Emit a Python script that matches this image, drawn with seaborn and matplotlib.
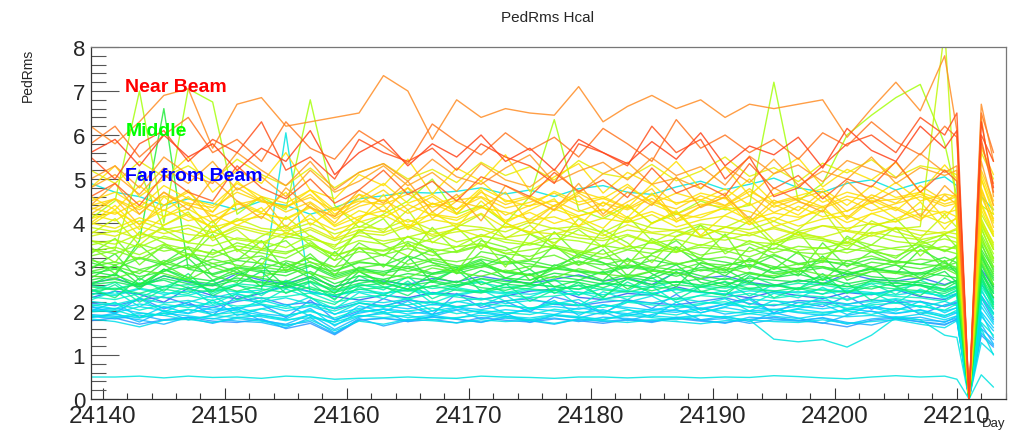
import matplotlib
matplotlib.use("Agg")
import matplotlib.pyplot as plt
from matplotlib.colors import LinearSegmentedColormap
from matplotlib.ticker import MultipleLocator
import pandas as pd
import seaborn as sns

# Measurement days (the run at 24211 reads zero pedestal RMS in every channel)
days = [24139, 24141, 24143, 24145, 24147, 24149, 24151, 24153, 24155, 24157,
        24159, 24161, 24163, 24165, 24167, 24169, 24171, 24173, 24175, 24177,
        24179, 24181, 24183, 24185, 24187, 24189, 24191, 24193, 24195, 24197,
        24199, 24201, 24203, 24205, 24207, 24209, 24210, 24211, 24212, 24213]

# Pedestal RMS per channel, channels far from the beam
far_rms = [
    [0.50, 0.50, 0.52, 0.48, 0.52, 0.49, 0.50, 0.47, 0.52, 0.50,
     0.45, 0.47, 0.48, 0.50, 0.48, 0.47, 0.52, 0.50, 0.49, 0.47,
     0.50, 0.50, 0.48, 0.50, 0.50, 0.48, 0.50, 0.49, 0.53, 0.51,
     0.48, 0.46, 0.50, 0.53, 0.50, 0.52, 0.45, 0.00, 0.55, 0.27],
    [1.90, 1.85, 1.95, 1.90, 1.80, 1.90, 1.85, 1.90, 1.80, 1.85,
     1.75, 1.90, 1.85, 1.90, 1.80, 1.85, 1.90, 1.85, 1.80, 1.90,
     1.85, 1.80, 1.90, 1.85, 1.80, 1.90, 1.85, 1.80, 1.36, 1.30,
     1.35, 1.18, 1.45, 1.85, 1.80, 1.45, 1.40, 0.00, 1.60, 1.00],
    [1.82, 1.76, 1.64, 1.79, 1.81, 1.74, 1.83, 1.77, 1.66, 1.80,
     1.55, 1.77, 1.70, 1.81, 1.78, 1.73, 1.80, 1.76, 1.79, 1.72,
     1.81, 1.78, 1.74, 1.80, 1.76, 1.71, 1.78, 1.80, 1.76, 1.74,
     1.80, 1.72, 1.76, 1.80, 1.70, 1.62, 1.78, 0.00, 1.28, 1.02],
    [1.92, 1.88, 1.80, 1.70, 1.86, 1.83, 1.77, 1.74, 1.62, 1.85,
     1.50, 1.80, 1.83, 1.79, 1.86, 1.82, 1.74, 1.88, 1.80, 1.84,
     1.76, 1.86, 1.83, 1.78, 1.85, 1.80, 1.72, 1.86, 1.82, 1.79,
     1.84, 1.70, 1.82, 1.87, 1.80, 1.76, 1.84, 0.00, 1.50, 1.22],
    [1.98, 2.02, 1.86, 1.95, 2.04, 1.92, 1.97, 2.05, 1.90, 1.99,
     1.84, 2.03, 1.95, 2.00, 2.07, 1.94, 2.01, 1.96, 1.92, 2.04,
     1.98, 1.93, 2.02, 1.97, 1.91, 2.05, 1.99, 1.94, 2.03, 1.98,
     1.95, 2.00, 1.92, 2.06, 1.97, 1.88, 2.02, 0.00, 1.74, 1.45],
    [2.05, 1.96, 2.10, 2.01, 1.94, 2.08, 2.00, 1.91, 1.82, 2.06,
     1.66, 1.98, 2.04, 1.93, 2.00, 2.09, 1.95, 2.03, 1.98, 1.92,
     2.07, 2.00, 1.94, 2.05, 2.01, 1.96, 2.08, 1.99, 1.93, 2.04,
     1.97, 2.02, 2.08, 1.95, 2.03, 1.90, 1.98, 0.00, 2.10, 1.70],
    [2.12, 2.18, 2.02, 2.15, 2.08, 2.20, 2.11, 2.16, 2.06, 2.13,
     2.00, 2.19, 2.10, 2.14, 2.22, 2.09, 2.17, 2.12, 2.06, 2.18,
     2.13, 2.08, 2.20, 2.14, 2.10, 2.17, 2.21, 2.09, 2.15, 2.12,
     2.19, 2.06, 2.14, 2.18, 2.11, 2.02, 2.16, 0.00, 2.30, 1.92],
    [1.88, 1.82, 1.91, 1.79, 1.84, 1.72, 1.86, 1.80, 1.68, 1.76,
     1.48, 1.83, 1.66, 1.79, 1.87, 1.81, 1.75, 1.84, 1.78, 1.70,
     1.82, 1.76, 1.81, 1.74, 1.86, 1.79, 1.83, 1.72, 1.80, 1.77,
     1.85, 1.74, 1.68, 1.82, 1.76, 1.70, 1.80, 0.00, 1.60, 1.35],
    [2.22, 2.15, 2.28, 2.18, 2.24, 2.12, 2.26, 2.20, 2.30, 2.16,
     2.08, 2.23, 2.19, 2.27, 2.14, 2.21, 2.29, 2.17, 2.24, 2.20,
     2.13, 2.26, 2.22, 2.18, 2.30, 2.21, 2.15, 2.27, 2.23, 2.19,
     2.25, 2.16, 2.22, 2.28, 2.20, 2.11, 2.24, 0.00, 2.45, 2.05],
    [2.00, 2.06, 1.96, 1.90, 2.03, 1.97, 2.08, 1.94, 1.88, 2.02,
     1.80, 1.95, 2.05, 1.99, 1.92, 2.04, 1.98, 1.91, 2.06, 2.00,
     1.95, 2.03, 1.89, 2.01, 1.97, 2.07, 1.93, 2.00, 2.04, 1.96,
     1.90, 2.05, 1.99, 1.94, 2.02, 1.85, 1.96, 0.00, 1.88, 1.55],
    [2.32, 2.26, 2.40, 2.30, 2.35, 2.24, 2.38, 2.29, 2.33, 2.41,
     2.20, 2.31, 2.36, 2.27, 2.39, 2.32, 2.25, 2.37, 2.30, 2.34,
     2.42, 2.28, 2.33, 2.38, 2.26, 2.35, 2.31, 2.40, 2.29, 2.36,
     2.32, 2.27, 2.39, 2.33, 2.30, 2.22, 2.37, 0.00, 2.55, 2.15],
    [1.86, 1.92, 1.84, 1.95, 1.89, 1.82, 1.93, 1.87, 1.78, 1.91,
     1.69, 1.88, 1.94, 1.85, 1.90, 1.83, 1.96, 1.88, 1.84, 1.92,
     1.87, 1.81, 1.93, 1.89, 1.85, 1.91, 1.86, 1.94, 1.88, 1.83,
     1.92, 1.87, 1.90, 1.85, 1.93, 1.80, 1.89, 0.00, 1.95, 1.40],
    [1.78, 1.84, 1.70, 1.80, 1.86, 1.77, 1.74, 1.82, 1.60, 1.72,
     1.46, 1.79, 1.84, 1.76, 1.81, 1.73, 1.85, 1.79, 1.75, 1.82,
     1.78, 1.72, 1.80, 1.76, 1.83, 1.77, 1.74, 1.81, 1.86, 1.78,
     1.73, 1.64, 1.79, 1.84, 1.75, 1.68, 1.82, 0.00, 1.45, 1.18],
    [2.46, 2.38, 2.52, 2.42, 2.36, 2.49, 2.44, 2.40, 2.55, 2.43,
     2.35, 2.50, 2.41, 2.47, 2.38, 2.53, 2.44, 2.39, 2.48, 2.42,
     2.37, 2.51, 2.45, 2.40, 2.49, 2.43, 2.38, 2.52, 2.46, 2.41,
     2.50, 2.44, 2.39, 2.47, 2.42, 2.34, 2.48, 0.00, 2.70, 2.25],
    [2.58, 2.50, 2.64, 2.55, 2.60, 2.48, 2.62, 2.57, 2.52, 2.66,
     2.45, 2.59, 2.54, 2.63, 2.51, 2.58, 2.65, 2.53, 2.60, 2.56,
     2.49, 2.62, 2.58, 2.54, 2.67, 2.57, 2.52, 2.61, 2.55, 2.63,
     2.59, 2.50, 2.64, 2.57, 2.60, 2.47, 2.58, 0.00, 2.85, 2.40],
    [2.10, 2.04, 2.16, 2.08, 2.13, 2.02, 2.07, 2.14, 2.00, 2.11,
     1.93, 2.06, 2.12, 2.05, 2.15, 2.09, 2.03, 2.13, 2.07, 2.10,
     2.04, 2.14, 2.08, 2.02, 2.12, 2.06, 2.15, 2.09, 2.03, 2.11,
     2.05, 2.13, 2.08, 2.04, 2.12, 2.00, 2.07, 0.00, 1.98, 1.62],
    [2.30, 2.45, 2.38, 2.20, 2.52, 2.35, 2.28, 2.40, 2.58, 2.44,
     2.33, 2.25, 2.36, 2.30, 2.42, 2.38, 2.27, 2.34, 2.45, 2.50,
     2.31, 2.26, 2.40, 2.36, 2.55, 2.43, 2.38, 2.30, 2.44, 2.35,
     2.28, 2.42, 2.37, 2.48, 2.33, 2.26, 2.40, 0.00, 2.60, 2.30],
    [2.62, 2.75, 2.55, 2.80, 2.66, 2.58, 2.85, 2.70, 2.62, 2.78,
     2.55, 2.70, 2.68, 2.60, 2.74, 2.66, 2.79, 2.70, 2.63, 2.72,
     2.82, 2.68, 2.75, 2.60, 2.88, 2.74, 2.80, 2.65, 2.58, 2.70,
     2.62, 2.85, 2.72, 2.68, 2.76, 2.60, 2.70, 0.00, 2.95, 2.55],
    [2.18, 2.12, 2.25, 2.32, 2.15, 2.08, 2.22, 2.30, 2.14, 2.20,
     2.05, 2.18, 2.12, 2.24, 2.19, 2.10, 2.16, 2.23, 2.28, 2.15,
     2.12, 2.20, 2.25, 2.18, 2.14, 2.22, 2.30, 2.17, 2.12, 2.24,
     2.20, 2.15, 2.26, 2.19, 2.22, 2.10, 2.18, 0.00, 2.35, 1.95],
    [2.40, 2.35, 2.50, 2.38, 2.45, 2.30, 2.42, 2.48, 6.05, 2.40,
     2.36, 2.44, 2.39, 2.50, 2.41, 2.35, 2.46, 2.42, 2.38, 2.47,
     2.43, 2.37, 2.45, 2.40, 2.49, 2.42, 2.38, 2.46, 2.41, 2.44,
     2.39, 2.47, 2.42, 2.36, 2.45, 2.32, 2.40, 0.00, 2.62, 2.20],
    [4.90, 4.70, 4.60, 4.40, 4.55, 4.45, 4.30, 4.50, 4.40, 4.20,
     4.35, 4.55, 4.62, 4.70, 4.68, 4.72, 4.80, 4.66, 4.75, 4.60,
     4.78, 4.85, 4.70, 4.65, 4.82, 4.95, 4.76, 4.88, 5.02, 4.80,
     4.70, 4.90, 4.98, 4.75, 4.92, 5.05, 4.85, 0.00, 4.60, 4.30],
    [2.00, 2.20, 1.85, 2.10, 1.95, 2.25, 1.90, 2.05, 2.15, 1.88,
     1.75, 2.12, 1.98, 2.22, 1.92, 2.08, 2.18, 1.95, 2.02, 2.24,
     1.90, 2.14, 2.04, 1.86, 2.20, 1.96, 2.10, 2.26, 1.94, 2.06,
     2.16, 1.92, 2.12, 2.00, 2.22, 1.96, 2.08, 0.00, 2.20, 1.75],
    [2.25, 2.45, 2.10, 2.35, 2.55, 2.15, 2.40, 2.20, 2.50, 2.30,
     2.05, 2.42, 2.28, 2.58, 2.18, 2.38, 2.48, 2.22, 2.32, 2.52,
     2.12, 2.44, 2.26, 2.56, 2.20, 2.36, 2.46, 2.14, 2.40, 2.30,
     2.54, 2.24, 2.42, 2.18, 2.50, 2.28, 2.36, 0.00, 2.50, 1.95],
    [1.85, 1.95, 1.75, 2.00, 1.80, 1.90, 2.05, 1.78, 1.70, 1.92,
     1.58, 1.86, 1.98, 1.76, 1.88, 2.02, 1.82, 1.94, 1.74, 1.90,
     1.84, 1.98, 1.78, 1.92, 2.04, 1.80, 1.88, 1.76, 1.96, 1.84,
     1.72, 1.90, 2.00, 1.82, 1.86, 1.74, 1.88, 0.00, 1.70, 1.25],
    [2.10, 1.95, 2.30, 2.05, 2.20, 1.90, 2.35, 2.15, 1.85, 2.25,
     1.80, 2.00, 2.28, 2.12, 1.92, 2.40, 2.08, 2.22, 1.98, 2.32,
     2.18, 1.94, 2.26, 2.06, 2.38, 2.02, 2.16, 2.30, 1.96, 2.20,
     2.10, 2.34, 2.04, 2.24, 1.92, 2.14, 2.20, 0.00, 2.30, 1.80],
    [2.15, 2.05, 2.28, 1.98, 2.20, 2.35, 2.02, 2.25, 2.10, 2.32,
     1.92, 2.18, 2.08, 2.30, 2.00, 2.22, 2.12, 2.36, 2.04, 2.16,
     2.26, 1.96, 2.20, 2.34, 2.06, 2.14, 2.28, 2.00, 2.24, 2.10,
     2.32, 2.02, 2.18, 2.26, 2.08, 2.22, 2.12, 0.00, 2.35, 1.85],
    [2.45, 2.65, 2.30, 2.55, 2.75, 2.40, 2.60, 2.35, 2.70, 2.50,
     2.28, 2.62, 2.48, 2.78, 2.38, 2.58, 2.68, 2.42, 2.52, 2.72,
     2.36, 2.64, 2.46, 2.76, 2.40, 2.56, 2.66, 2.34, 2.60, 2.50,
     2.74, 2.44, 2.62, 2.38, 2.70, 2.48, 2.56, 0.00, 2.75, 2.15],
]
far_tone = [0.30, 0.30, 0.28, 0.20, 0.32, 0.25, 0.34, 0.18, 0.30, 0.22, 0.35,
            0.27, 0.14, 0.32, 0.36, 0.24, 0.05, 0.07, 0.10, 0.30, 0.30,
            0.26, 0.33, 0.20, 0.12, 0.29, 0.36]

# Pedestal RMS per channel, middle ring
middle_rms = [
    [2.70, 2.82, 2.60, 2.95, 2.76, 2.68, 2.88, 2.74, 2.66, 2.90,
     2.62, 2.80, 2.72, 2.85, 2.78, 2.64, 2.92, 2.75, 2.70, 2.86,
     2.79, 2.68, 2.83, 2.74, 2.95, 2.80, 2.71, 2.88, 2.76, 2.84,
     2.70, 2.90, 2.78, 2.73, 2.87, 2.80, 2.75, 0.00, 3.05, 2.50],
    [2.90, 3.02, 2.85, 3.15, 2.96, 3.08, 2.88, 3.00, 2.92, 3.12,
     2.84, 2.98, 3.06, 2.90, 3.04, 2.95, 3.10, 2.89, 3.02, 2.97,
     3.14, 2.93, 3.05, 2.98, 3.09, 2.91, 3.03, 3.16, 2.95, 3.07,
     3.00, 2.92, 3.11, 3.04, 2.96, 3.08, 2.99, 0.00, 3.30, 2.85],
    [2.55, 2.48, 2.62, 2.70, 2.52, 2.60, 2.45, 2.58, 2.66, 2.50,
     2.42, 2.57, 2.63, 2.49, 2.56, 2.68, 2.53, 2.47, 2.61, 2.55,
     2.50, 2.64, 2.58, 2.46, 2.60, 2.54, 2.67, 2.51, 2.59, 2.48,
     2.62, 2.56, 2.50, 2.65, 2.57, 2.44, 2.55, 0.00, 2.78, 2.30],
    [3.10, 2.95, 3.20, 3.05, 3.28, 3.00, 3.15, 3.08, 2.98, 3.22,
     2.92, 3.12, 3.04, 3.25, 3.10, 2.99, 3.18, 3.06, 3.14, 3.02,
     3.24, 3.09, 2.97, 3.16, 3.05, 3.20, 3.11, 3.00, 3.26, 3.08,
     3.15, 3.03, 3.19, 3.12, 3.06, 3.22, 3.10, 0.00, 3.40, 2.95],
    [2.80, 2.74, 2.92, 2.85, 2.70, 3.00, 2.82, 2.77, 2.95, 2.86,
     2.72, 2.90, 2.83, 2.76, 2.98, 2.88, 2.79, 2.93, 2.81, 2.75,
     2.96, 2.84, 2.78, 2.91, 2.87, 2.73, 2.99, 2.85, 2.80, 2.94,
     2.82, 2.77, 2.90, 2.86, 2.74, 2.97, 2.83, 0.00, 3.15, 2.60],
    [2.65, 2.72, 2.58, 2.80, 2.68, 2.62, 2.75, 2.66, 2.60, 2.78,
     2.55, 2.70, 2.64, 2.76, 2.69, 2.59, 2.74, 2.67, 2.63, 2.79,
     2.71, 2.61, 2.77, 2.68, 2.65, 2.73, 2.60, 2.75, 2.70, 2.66,
     2.78, 2.62, 2.72, 2.69, 2.64, 2.58, 2.70, 0.00, 2.90, 2.45],
    [3.25, 3.38, 3.18, 3.45, 3.30, 3.22, 3.40, 3.32, 3.20, 3.48,
     3.15, 3.35, 3.28, 3.42, 3.26, 3.36, 3.50, 3.30, 3.24, 3.44,
     3.34, 3.21, 3.39, 3.31, 3.46, 3.27, 3.37, 3.23, 3.43, 3.33,
     3.29, 3.41, 3.35, 3.25, 3.47, 3.38, 3.30, 0.00, 3.60, 3.10],
    [2.85, 2.95, 2.78, 2.90, 3.05, 2.82, 2.98, 2.88, 2.80, 3.02,
     2.76, 2.93, 2.86, 2.97, 2.83, 2.91, 3.04, 2.87, 2.81, 2.96,
     2.89, 2.84, 3.00, 2.92, 2.79, 2.94, 2.87, 3.03, 2.85, 2.90,
     2.98, 2.83, 2.95, 2.88, 2.82, 2.99, 2.90, 0.00, 3.20, 2.70],
    [2.45, 2.52, 2.40, 2.56, 2.48, 2.44, 2.58, 2.50, 2.42, 2.55,
     2.36, 2.49, 2.53, 2.45, 2.57, 2.47, 2.41, 2.54, 2.50, 2.46,
     2.59, 2.48, 2.43, 2.55, 2.51, 2.44, 2.57, 2.49, 2.45, 2.53,
     2.47, 2.42, 2.56, 2.50, 2.46, 2.40, 2.52, 0.00, 2.70, 2.20],
    [3.00, 3.12, 2.94, 3.08, 2.98, 3.18, 3.04, 2.96, 3.14, 3.02,
     2.90, 3.10, 3.06, 2.97, 3.16, 3.03, 2.99, 3.13, 3.07, 2.95,
     3.11, 3.05, 3.17, 3.00, 2.93, 3.09, 3.04, 3.15, 3.01, 2.96,
     3.12, 3.08, 2.98, 3.14, 3.06, 3.02, 3.10, 0.00, 3.35, 2.80],
    [2.90, 2.80, 3.60, 6.60, 2.95, 2.85, 3.00, 2.92, 2.88, 3.05,
     2.80, 2.96, 2.90, 3.02, 2.86, 2.94, 3.08, 2.89, 2.83, 2.98,
     2.91, 2.87, 3.03, 2.95, 2.84, 2.99, 2.93, 3.06, 2.88, 2.97,
     3.01, 2.85, 2.96, 2.90, 2.86, 3.02, 2.94, 0.00, 3.25, 2.75],
    [3.15, 3.05, 3.22, 3.10, 3.30, 3.08, 3.18, 3.25, 3.02, 3.20,
     3.00, 3.14, 3.28, 3.06, 3.19, 3.12, 3.24, 3.09, 3.17, 3.27,
     3.04, 3.21, 3.13, 3.26, 3.07, 3.16, 3.23, 3.11, 3.29, 3.05,
     3.20, 3.14, 3.25, 3.08, 3.18, 3.12, 3.22, 0.00, 3.50, 3.00],
    [2.60, 2.66, 2.55, 2.74, 2.62, 2.57, 2.70, 2.64, 2.52, 2.68,
     2.48, 2.63, 2.71, 2.58, 2.66, 2.54, 2.73, 2.61, 2.56, 2.69,
     2.65, 2.53, 2.72, 2.60, 2.67, 2.59, 2.75, 2.62, 2.57, 2.70,
     2.64, 2.55, 2.68, 2.63, 2.59, 2.50, 2.66, 0.00, 2.85, 2.40],
    [3.40, 3.30, 3.52, 3.36, 3.46, 3.28, 3.55, 3.42, 3.34, 3.50,
     3.26, 3.44, 3.38, 3.58, 3.41, 3.33, 3.48, 3.37, 3.54, 3.43,
     3.31, 3.49, 3.40, 3.56, 3.35, 3.45, 3.39, 3.53, 3.32, 3.47,
     3.42, 3.57, 3.36, 3.44, 3.51, 3.38, 3.46, 0.00, 3.75, 3.20],
    [3.50, 3.62, 3.45, 3.70, 3.55, 3.48, 3.66, 3.58, 3.44, 3.72,
     3.40, 3.60, 3.52, 3.68, 3.57, 3.46, 3.74, 3.56, 3.50, 3.65,
     3.59, 3.47, 3.71, 3.54, 3.63, 3.49, 3.69, 3.57, 3.53, 3.67,
     3.60, 3.48, 3.73, 3.58, 3.52, 3.64, 3.56, 0.00, 3.85, 3.30],
    [3.60, 3.52, 3.75, 3.65, 3.58, 3.80, 3.62, 3.55, 3.78, 3.64,
     3.50, 3.72, 3.59, 3.68, 3.82, 3.57, 3.70, 3.63, 3.54, 3.77,
     3.66, 3.60, 3.74, 3.56, 3.81, 3.67, 3.61, 3.76, 3.58, 3.71,
     3.64, 3.53, 3.79, 3.69, 3.62, 3.73, 3.65, 0.00, 3.95, 3.40],
    [3.70, 3.82, 3.64, 3.88, 3.74, 3.68, 3.90, 3.76, 3.66, 3.85,
     3.60, 3.78, 3.72, 3.92, 3.70, 3.80, 3.86, 3.67, 3.75, 3.89,
     3.73, 3.65, 3.84, 3.77, 3.69, 3.87, 3.79, 3.71, 3.91, 3.74,
     3.68, 3.83, 3.76, 3.88, 3.72, 3.80, 3.75, 0.00, 4.00, 3.45],
    [3.35, 3.45, 3.28, 3.52, 3.40, 3.32, 3.48, 3.38, 3.30, 3.55,
     3.25, 3.42, 3.36, 3.50, 3.34, 3.46, 3.53, 3.31, 3.39, 3.49,
     3.37, 3.29, 3.47, 3.41, 3.33, 3.51, 3.43, 3.35, 3.54, 3.38,
     3.44, 3.32, 3.50, 3.40, 3.36, 3.47, 3.41, 0.00, 3.65, 3.15],
    [4.10, 4.50, 7.00, 4.00, 7.05, 6.75, 4.20, 4.60, 4.30, 6.80,
     4.40, 3.90, 4.20, 4.50, 5.00, 4.20, 4.40, 4.00, 4.60, 6.35,
     4.30, 4.10, 4.40, 4.00, 4.20, 4.50, 4.30, 4.40, 7.20, 4.50,
     4.90, 6.00, 6.45, 6.85, 7.15, 5.80, 4.60, 0.00, 4.40, 4.20],
    [3.90, 3.80, 4.05, 3.85, 3.95, 3.78, 4.10, 3.88, 3.82, 4.00,
     3.75, 3.92, 3.86, 4.08, 3.84, 3.96, 3.90, 3.80, 4.02, 3.87,
     3.93, 3.79, 4.06, 3.89, 3.83, 3.98, 3.91, 3.85, 4.04, 3.81,
     3.94, 3.88, 3.99, 3.86, 3.92, 8.40, 3.95, 0.00, 4.20, 3.70],
    [2.95, 3.30, 2.70, 3.10, 3.45, 2.80, 2.65, 3.20, 3.05, 2.75,
     3.35, 2.90, 2.60, 3.15, 3.40, 2.85, 3.00, 3.25, 2.70, 2.95,
     3.30, 3.10, 2.75, 2.90, 3.45, 3.05, 2.80, 3.20, 2.95, 3.35,
     2.70, 3.15, 3.00, 2.85, 3.40, 3.10, 2.95, 0.00, 3.30, 2.60],
    [3.45, 3.10, 3.80, 3.55, 3.20, 3.95, 3.40, 3.05, 3.70, 3.60,
     3.15, 3.85, 3.50, 3.25, 3.90, 3.35, 3.65, 3.00, 3.75, 3.45,
     3.20, 3.85, 3.55, 3.10, 3.70, 3.95, 3.30, 3.60, 3.40, 3.80,
     3.15, 3.65, 3.50, 3.90, 3.25, 3.75, 3.45, 0.00, 3.90, 3.20],
    [2.50, 2.30, 2.75, 2.45, 2.85, 2.35, 2.60, 2.90, 2.40, 2.65,
     2.25, 2.80, 2.55, 2.35, 2.70, 2.95, 2.45, 2.60, 2.85, 2.40,
     2.65, 2.30, 2.75, 2.55, 2.90, 2.45, 2.35, 2.80, 2.60, 2.50,
     2.85, 2.40, 2.70, 2.55, 2.35, 2.75, 2.60, 0.00, 2.80, 2.10],
    [3.20, 2.85, 3.50, 3.05, 2.75, 3.40, 3.15, 3.60, 2.90, 3.30,
     2.80, 3.45, 3.00, 3.55, 3.10, 2.85, 3.35, 3.25, 2.95, 3.50,
     3.05, 3.40, 2.80, 3.30, 3.60, 3.15, 2.90, 3.45, 3.20, 2.85,
     3.55, 3.00, 3.35, 3.10, 3.50, 2.95, 3.25, 0.00, 3.55, 2.90],
    [3.75, 4.10, 3.50, 3.95, 4.25, 3.60, 3.85, 3.40, 4.15, 3.70,
     3.45, 4.05, 3.80, 4.30, 3.55, 3.90, 4.20, 3.65, 3.95, 3.50,
     4.10, 3.75, 3.45, 4.00, 4.25, 3.70, 3.90, 4.15, 3.60, 3.85,
     4.30, 3.55, 4.05, 3.80, 3.65, 4.20, 3.90, 0.00, 4.10, 3.50],
    [2.35, 2.60, 2.20, 2.50, 2.40, 2.70, 2.25, 2.45, 2.65, 2.30,
     2.15, 2.55, 2.35, 2.68, 2.28, 2.50, 2.42, 2.62, 2.22, 2.48,
     2.58, 2.32, 2.66, 2.40, 2.26, 2.55, 2.44, 2.70, 2.30, 2.52,
     2.38, 2.64, 2.24, 2.50, 2.60, 2.34, 2.46, 0.00, 2.65, 2.05],
    [3.30, 3.65, 3.05, 3.50, 3.20, 3.75, 2.95, 3.40, 3.60, 3.10,
     3.00, 3.55, 3.25, 3.70, 3.35, 2.90, 3.60, 3.45, 3.15, 3.80,
     3.25, 3.50, 3.05, 3.65, 3.40, 3.20, 3.75, 2.95, 3.55, 3.30,
     3.10, 3.70, 3.40, 3.20, 3.60, 3.35, 3.50, 0.00, 3.70, 3.00],
    [2.75, 3.05, 2.60, 2.90, 3.20, 2.70, 2.95, 2.55, 3.10, 2.85,
     2.50, 3.00, 2.80, 3.25, 2.65, 2.95, 3.15, 2.75, 2.60, 3.05,
     2.90, 2.70, 3.20, 2.85, 2.55, 3.10, 2.95, 2.65, 3.00, 2.80,
     3.25, 2.70, 2.90, 3.05, 2.75, 3.15, 2.85, 0.00, 3.10, 2.55],
    [3.60, 3.40, 5.20, 3.85, 3.55, 4.05, 3.35, 3.70, 3.95, 3.50,
     3.30, 3.80, 4.10, 3.45, 3.65, 3.90, 3.40, 4.00, 3.75, 3.55,
     3.85, 3.45, 4.15, 3.60, 3.35, 3.95, 3.70, 4.05, 3.50, 3.80,
     3.65, 3.40, 3.90, 4.10, 3.55, 3.75, 3.85, 0.00, 4.00, 3.40],
    [2.60, 2.85, 2.50, 2.95, 2.70, 2.45, 2.80, 3.05, 2.55, 2.75,
     2.40, 2.90, 2.65, 2.50, 2.85, 3.00, 2.60, 2.75, 2.95, 2.55,
     2.70, 2.90, 2.50, 2.80, 3.05, 2.65, 2.55, 2.85, 2.75, 2.95,
     2.60, 2.80, 3.00, 2.55, 2.70, 2.90, 2.65, 0.00, 2.95, 2.30],
]
middle_tone = [0.45, 0.50, 0.42, 0.48, 0.52, 0.44, 0.55, 0.47, 0.40, 0.50,
               0.46, 0.53, 0.43, 0.56, 0.60, 0.62, 0.64, 0.58, 0.60, 0.63,
               0.48, 0.57, 0.41, 0.51, 0.63, 0.38, 0.54, 0.46, 0.59, 0.44]

# Pedestal RMS per channel, channels near the beam
near_rms = [
    [3.80, 3.70, 3.92, 3.76, 3.88, 3.66, 3.95, 3.82, 3.72, 3.90,
     3.64, 3.85, 3.78, 3.97, 3.74, 3.86, 3.69, 3.93, 3.80, 3.75,
     3.89, 3.71, 3.96, 3.79, 3.84, 3.68, 3.91, 3.77, 3.87, 3.73,
     3.94, 3.81, 3.70, 3.90, 3.83, 3.76, 3.88, 0.00, 4.05, 3.55],
    [4.10, 4.25, 3.98, 4.30, 4.05, 4.18, 3.95, 4.22, 4.08, 4.35,
     3.92, 4.15, 4.28, 4.02, 4.20, 4.12, 4.38, 4.06, 4.24, 3.99,
     4.16, 4.32, 4.09, 4.26, 4.04, 4.19, 4.34, 4.07, 4.23, 4.13,
     4.29, 4.01, 4.21, 4.36, 4.11, 4.27, 4.14, 0.00, 4.45, 3.80],
    [4.00, 3.88, 4.12, 3.95, 4.20, 3.90, 4.05, 4.15, 3.86, 4.10,
     3.84, 4.02, 4.18, 3.92, 4.08, 3.98, 4.22, 3.89, 4.06, 4.14,
     3.94, 4.11, 4.01, 4.19, 3.91, 4.07, 4.16, 3.97, 4.13, 3.93,
     4.09, 4.17, 3.96, 4.04, 4.21, 3.99, 4.10, 0.00, 4.30, 3.70],
    [4.40, 4.55, 4.30, 4.62, 4.45, 4.35, 4.70, 4.48, 4.38, 4.58,
     4.28, 4.50, 4.42, 4.66, 4.36, 4.52, 4.60, 4.34, 4.47, 4.68,
     4.41, 4.56, 4.33, 4.64, 4.46, 4.53, 4.39, 4.72, 4.44, 4.57,
     4.37, 4.61, 4.49, 4.54, 4.65, 4.43, 4.51, 0.00, 4.80, 4.05],
    [4.60, 4.30, 4.85, 4.40, 4.70, 4.25, 4.95, 4.50, 4.35, 4.75,
     4.20, 4.55, 4.90, 4.45, 4.65, 4.30, 4.80, 4.52, 4.38, 4.72,
     4.48, 4.60, 4.35, 4.88, 4.42, 4.68, 4.55, 5.00, 4.46, 4.62,
     4.78, 4.40, 4.85, 4.58, 4.70, 4.50, 4.66, 0.00, 5.10, 4.40],
    [5.20, 4.90, 5.40, 5.05, 5.30, 4.95, 5.45, 5.10, 4.85, 5.25,
     4.80, 5.15, 5.35, 5.00, 5.22, 4.92, 5.38, 5.08, 5.28, 4.98,
     5.42, 5.12, 5.02, 5.33, 4.96, 5.18, 5.50, 5.06, 5.26, 4.94,
     5.36, 5.14, 5.44, 5.04, 5.30, 5.20, 5.10, 0.00, 5.60, 5.00],
    [4.50, 4.70, 4.35, 4.85, 4.55, 4.40, 4.90, 4.60, 4.45, 4.75,
     4.30, 4.65, 4.50, 4.80, 4.42, 4.58, 4.95, 4.48, 4.62, 4.38,
     4.72, 4.55, 4.88, 4.44, 4.68, 4.52, 4.78, 4.40, 4.64, 4.85,
     4.47, 4.70, 4.56, 4.92, 4.50, 4.66, 4.60, 0.00, 5.00, 4.30],
    [5.00, 5.30, 4.80, 5.50, 5.10, 4.90, 5.60, 5.20, 4.85, 5.40,
     4.75, 5.15, 5.35, 4.95, 5.45, 5.05, 4.88, 5.25, 5.55, 4.92,
     5.18, 5.38, 4.98, 5.48, 5.08, 5.28, 4.86, 5.52, 5.12, 5.32,
     4.94, 5.42, 5.22, 5.02, 5.58, 5.15, 5.30, 0.00, 5.80, 4.90],
    [4.20, 4.05, 4.40, 4.15, 4.32, 4.00, 4.45, 4.22, 4.10, 4.38,
     3.95, 4.28, 4.12, 4.42, 4.18, 4.06, 4.35, 4.25, 4.08, 4.40,
     4.16, 4.30, 4.02, 4.44, 4.20, 4.12, 4.36, 4.26, 4.04, 4.38,
     4.14, 4.28, 4.46, 4.10, 4.32, 4.22, 4.30, 0.00, 4.60, 4.00],
    [6.20, 5.80, 6.30, 6.90, 7.05, 5.70, 6.70, 6.85, 6.20, 6.30,
     6.40, 6.50, 7.35, 7.00, 5.90, 6.80, 6.40, 6.60, 6.50, 6.45,
     7.10, 6.30, 6.65, 6.90, 6.60, 6.80, 6.40, 6.70, 6.60, 6.70,
     6.80, 5.95, 6.60, 7.20, 6.55, 7.80, 6.10, 0.00, 6.70, 5.40],
    [4.80, 5.10, 4.65, 5.25, 4.90, 5.40, 4.75, 5.05, 4.60, 5.20,
     4.70, 4.95, 5.30, 4.85, 5.15, 4.72, 5.35, 4.98, 4.82, 5.22,
     4.68, 5.12, 5.38, 4.88, 5.02, 4.78, 5.28, 4.92, 5.45, 4.86,
     5.18, 5.00, 5.50, 4.90, 5.26, 5.08, 5.20, 0.00, 6.40, 4.60],
    [4.35, 4.20, 4.50, 4.28, 4.60, 4.15, 4.42, 4.55, 4.25, 4.48,
     4.10, 4.38, 4.52, 4.22, 4.45, 4.32, 4.58, 4.18, 4.40, 4.50,
     4.26, 4.46, 4.30, 4.56, 4.20, 4.43, 4.36, 4.62, 4.24, 4.48,
     4.34, 4.54, 4.28, 4.44, 4.60, 4.38, 4.45, 0.00, 4.75, 4.10],
    [5.50, 5.00, 5.80, 6.10, 5.40, 5.90, 5.60, 6.30, 5.20, 5.50,
     5.00, 5.90, 5.60, 5.40, 5.70, 5.20, 5.80, 5.50, 5.30, 4.90,
     5.80, 5.60, 5.30, 6.20, 5.60, 5.90, 5.00, 5.50, 4.60, 4.80,
     5.30, 5.80, 6.00, 5.60, 6.40, 6.00, 6.50, 0.00, 6.00, 5.40],
    [4.60, 4.90, 4.40, 5.10, 4.70, 4.50, 5.30, 4.80, 4.55, 5.00,
     4.45, 4.75, 5.20, 4.65, 4.95, 4.50, 5.05, 4.85, 4.60, 5.15,
     4.72, 4.98, 4.58, 5.25, 4.68, 4.90, 4.62, 5.35, 4.78, 5.08,
     4.55, 5.00, 4.82, 5.40, 4.70, 5.20, 4.95, 0.00, 5.90, 4.70],
    [5.60, 5.90, 5.30, 6.00, 5.50, 5.80, 5.20, 5.70, 5.40, 6.10,
     5.10, 5.60, 5.90, 5.30, 5.80, 5.50, 6.00, 5.40, 5.70, 5.20,
     5.90, 5.60, 5.35, 5.85, 5.45, 6.05, 5.30, 5.75, 5.55, 5.95,
     5.25, 6.15, 5.65, 5.40, 6.20, 5.70, 6.10, 0.00, 6.30, 4.80],
    [4.30, 4.55, 4.20, 4.70, 4.40, 4.25, 4.80, 4.50, 4.35, 4.65,
     4.15, 4.45, 4.75, 4.30, 4.60, 4.22, 4.70, 4.42, 4.58, 4.28,
     4.68, 4.38, 4.82, 4.48, 4.32, 4.62, 4.40, 4.78, 4.36, 4.55,
     4.72, 4.26, 4.64, 4.45, 4.85, 4.50, 4.60, 0.00, 5.20, 4.50],
    [4.20, 4.55, 3.95, 4.40, 4.75, 4.05, 4.30, 4.60, 3.90, 4.45,
     4.00, 4.65, 4.25, 4.80, 4.10, 4.50, 4.35, 4.70, 3.98, 4.40,
     4.62, 4.15, 4.48, 4.78, 4.08, 4.38, 4.68, 4.02, 4.52, 4.28,
     4.72, 4.12, 4.58, 4.32, 4.05, 4.64, 4.42, 0.00, 4.70, 3.90],
    [4.40, 4.90, 4.20, 4.70, 4.30, 5.00, 4.50, 4.10, 4.80, 4.35,
     4.15, 4.75, 4.45, 4.95, 4.25, 4.65, 4.05, 4.85, 4.55, 4.30,
     4.90, 4.20, 4.70, 4.40, 5.05, 4.35, 4.60, 4.10, 4.80, 4.50,
     4.25, 4.95, 4.45, 4.75, 4.15, 4.85, 4.60, 0.00, 5.40, 4.40],
    [4.00, 4.40, 3.85, 4.60, 4.15, 3.90, 4.50, 4.25, 4.70, 3.95,
     4.35, 4.05, 4.65, 3.88, 4.45, 4.20, 4.75, 4.00, 4.30, 4.55,
     3.92, 4.48, 4.12, 4.68, 4.02, 4.38, 4.58, 3.96, 4.42, 4.18,
     4.62, 4.08, 4.52, 4.28, 4.72, 4.10, 4.45, 0.00, 5.00, 4.20],
    [3.95, 4.30, 3.70, 4.15, 4.45, 3.80, 4.05, 4.35, 3.75, 4.20,
     3.65, 4.10, 4.40, 3.85, 4.25, 3.90, 4.50, 4.00, 3.78, 4.32,
     4.12, 3.88, 4.42, 3.98, 4.28, 3.72, 4.18, 4.46, 3.92, 4.08,
     4.38, 3.82, 4.22, 4.02, 4.48, 3.86, 4.14, 0.00, 4.40, 3.75],
    [4.80, 5.30, 4.60, 5.00, 5.50, 4.70, 5.20, 4.90, 5.60, 4.75,
     4.55, 5.10, 4.85, 5.45, 4.65, 5.25, 4.95, 5.55, 4.72, 5.05,
     5.35, 4.68, 5.15, 4.88, 5.40, 4.78, 5.28, 4.62, 5.12, 5.48,
     4.82, 5.22, 4.98, 5.38, 4.70, 5.32, 5.00, 0.00, 5.70, 5.10],
    [5.80, 6.20, 5.50, 6.00, 6.40, 5.60, 5.90, 5.40, 6.30, 5.70,
     5.45, 6.10, 5.75, 5.35, 6.25, 5.85, 5.55, 6.05, 5.65, 5.95,
     5.50, 6.15, 5.80, 5.40, 6.35, 5.70, 6.00, 5.60, 5.90, 5.45,
     6.05, 5.75, 6.30, 5.85, 5.55, 6.20, 5.95, 0.00, 6.50, 5.60],
]
near_tone = [0.66, 0.70, 0.68, 0.72, 0.70, 0.67, 0.71, 0.82, 0.69, 0.84,
             0.80, 0.72, 0.95, 0.92, 0.98, 0.73, 0.74, 0.80, 0.70, 0.69,
             0.71, 0.88]

# Long-form table: one row per channel and day
frames = []
channel = 0
for rms_group, tone_group in ((far_rms, far_tone),
                              (middle_rms, middle_tone),
                              (near_rms, near_tone)):
    for values, tone in zip(rms_group, tone_group):
        assert len(values) == len(days)
        frames.append(pd.DataFrame({"day": days, "rms": values,
                                    "tone": tone, "channel": channel}))
        channel += 1
data = pd.concat(frames, ignore_index=True)

sns.set_theme(style="white")
plt.rcParams["font.family"] = ["Liberation Sans", "DejaVu Sans"]

rainbow = LinearSegmentedColormap.from_list("hcal_rainbow", [
    (0.00, (0.12, 0.25, 0.90)),
    (0.12, (0.20, 0.55, 1.00)),
    (0.24, (0.00, 0.82, 1.00)),
    (0.34, (0.00, 0.95, 0.80)),
    (0.45, (0.10, 0.92, 0.25)),
    (0.60, (0.65, 1.00, 0.05)),
    (0.70, (1.00, 0.90, 0.00)),
    (0.82, (1.00, 0.60, 0.15)),
    (1.00, (1.00, 0.22, 0.10)),
])

fig = plt.figure(figsize=(10.14, 4.31), dpi=100)
ax = fig.add_axes([0.0894, 0.0719, 0.9024, 0.8167])

sns.lineplot(data=data, x="day", y="rms", hue="tone", units="channel",
             estimator=None, palette=rainbow, hue_norm=(0, 1), legend=False,
             linewidth=1.0, alpha=0.85, ax=ax)

ax.set_xlim(24139, 24214)
ax.set_ylim(0, 8)
ax.set_xlabel("")
ax.set_ylabel("")
ax.set_axisbelow(True)

ax.xaxis.set_major_locator(MultipleLocator(10))
ax.xaxis.set_minor_locator(MultipleLocator(2))
ax.yaxis.set_major_locator(MultipleLocator(1))
ax.yaxis.set_minor_locator(MultipleLocator(0.2))
ax.tick_params(axis="x", which="major", direction="in", length=8, width=0.8,
               color="#333333", labelsize=17.5, pad=4)
ax.tick_params(axis="x", which="minor", direction="in", length=4.5,
               width=0.8, color="#333333")
ax.tick_params(axis="y", which="major", direction="in", length=20, width=0.8,
               color="#555555", labelsize=16, pad=4)
ax.tick_params(axis="y", which="minor", direction="in", length=10.5,
               width=0.8, color="#555555")
ax.tick_params(which="both", bottom=True, left=True, top=False, right=False)

for side in ("left", "bottom"):
    ax.spines[side].set_color("#333333")
    ax.spines[side].set_linewidth(0.9)
for side in ("top", "right"):
    ax.spines[side].set_color("#777777")
    ax.spines[side].set_linewidth(0.9)

fig.text(0.5404, 0.958, "PedRms Hcal", ha="center", va="center", fontsize=11)
fig.text(0.027, 0.888, "PedRms", rotation=90, ha="center", va="top",
         fontsize=10)
fig.text(0.9918, 0.003, "Day", ha="right", va="bottom", fontsize=9.5)

ax.text(0.038, 0.888, "Near Beam", transform=ax.transAxes, color="#ff0000",
        fontsize=14, fontweight="bold", va="center")
ax.text(0.038, 0.763, "Middle", transform=ax.transAxes, color="#00ff00",
        fontsize=14, fontweight="bold", va="center")
ax.text(0.038, 0.636, "Far from Beam", transform=ax.transAxes,
        color="#0000ff", fontsize=14, fontweight="bold", va="center")

fig.savefig("out.png", dpi=100)
